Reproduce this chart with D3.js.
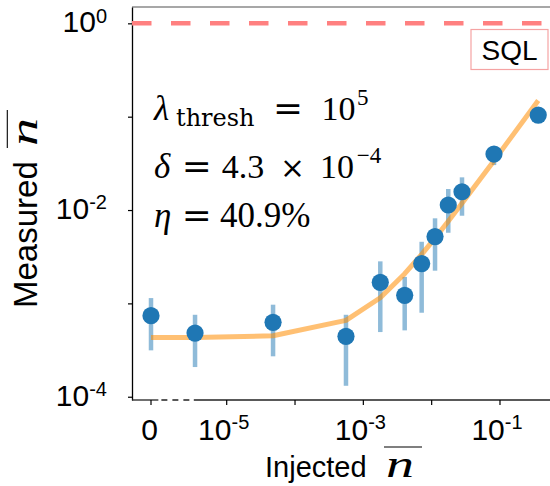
<!DOCTYPE html>
<html><head><meta charset="utf-8">
<script src="https://cdn.jsdelivr.net/npm/d3@7"></script>
<style>html,body{margin:0;padding:0;background:#fff}svg{display:block}</style>
</head><body>
<svg id="chart" width="550" height="486"></svg>
<script>
// ---- data ----
const injected   = [0, 3.44e-6, 4.77e-5, 5.57e-4, 1.77e-3, 4.03e-3, 7.14e-3, 0.0112, 0.0175, 0.0278, 0.0817, 0.363];
const measured   = [7.38e-4, 4.81e-4, 6.27e-4, 4.44e-4, 1.68e-3, 1.22e-3, 2.67e-3, 5.20e-3, 0.01132, 0.0157, 0.0398, 0.104];
const errLow     = [3.14e-4, 2.08e-4, 2.71e-4, 1.31e-4, 4.93e-4, 5.14e-4, 7.94e-4, 2.24e-3, 5.71e-3, 8.69e-3, 0.0303, 0.090];
const errHigh    = [1.14e-3, 7.55e-4, 9.68e-4, 7.55e-4, 2.82e-3, 1.92e-3, 4.57e-3, 8.15e-3, 0.0168, 0.0224, 0.048, 0.118];
const fitValues  = [4.30e-4, 4.31e-4, 4.50e-4, 6.58e-4, 1.15e-3, 2.08e-3, 3.35e-3, 5.01e-3, 7.59e-3, 0.0118, 0.0338, 0.149];
const sqlLevel   = [1];
const xTickValues = [0, 1e-5, 1e-4, 1e-3, 1e-2, 1e-1];
const xTickLabels = [["0",""], ["10","-5"], null, ["10","-3"], null, ["10","-1"]];
const yTickValues = [1e-4, 1e-3, 1e-2, 1e-1, 1];
const yTickLabels = [["10","-4"], null, ["10","-2"], null, ["10","0"]];
const zeroDrawnAt = 7.8e-7;            // where "0" sits on the broken log axis
const axisBreak   = [1e-6, 3.3e-6];    // dashed part of the x axis
const legendLabel = "SQL";

// ---- layout ----
const L = 132, R = 550, T = 7, B = 400;
const svg = d3.select("#chart");
svg.append("rect").attr("width",550).attr("height",486).attr("fill","#fff");

const x = d3.scaleLog().domain([Math.pow(10,-6.386), Math.pow(10,-0.268)]).range([L, R]);
const y = d3.scaleLog().domain([Math.pow(10,-4.035), Math.pow(10,0.175)]).range([B, T]);
const xp = v => v === 0 ? x(zeroDrawnAt) : x(v);

const sans = "'Liberation Sans', Arial, Helvetica, sans-serif";
const serif = "'Liberation Serif', 'DejaVu Serif', serif";
const dserif = "'DejaVu Serif', serif";

// top spine
svg.append("line").attr("x1",L).attr("x2",R).attr("y1",T).attr("y2",T)
  .attr("stroke","#8a8a8a").attr("stroke-width",1.5);

// left axis
const yAxis = d3.axisLeft(y).tickValues(yTickValues).tickSize(4).tickSizeOuter(0).tickFormat("");
const gy = svg.append("g").attr("transform",`translate(${L},0)`).call(yAxis);
gy.select(".domain").attr("stroke","#000").attr("stroke-width",1.3);
gy.selectAll(".tick line").attr("stroke","#000").attr("stroke-width",1.2);
gy.selectAll(".tick").each(function(d,i){
  const lab = yTickLabels[i]; if(!lab) return;
  const t = d3.select(this).append("text").attr("x",-25).attr("y",8.4)
    .attr("text-anchor","end").attr("fill","#000").attr("font-family",sans).attr("font-size",30);
  t.append("tspan").text(lab[0]);
  t.append("tspan").attr("font-size",20).attr("dy",-9.5).text(lab[1]);
});

// bottom axis (broken between 0 and 10^-5)
const gx = svg.append("g");
gx.append("line").attr("x1",L).attr("x2",x(axisBreak[0])).attr("y1",B).attr("y2",B)
  .attr("stroke","#222").attr("stroke-width",1.3);
gx.append("line").attr("x1",x(axisBreak[0])).attr("x2",x(axisBreak[1])).attr("y1",B).attr("y2",B)
  .attr("stroke","#222").attr("stroke-width",1.3).attr("stroke-dasharray","6,5").attr("stroke-dashoffset",-3);
gx.append("line").attr("x1",x(axisBreak[1])).attr("x2",R).attr("y1",B).attr("y2",B)
  .attr("stroke","#222").attr("stroke-width",1.3);
gx.selectAll("line.tk").data(xTickValues).join("line").attr("class","tk")
  .attr("x1",d=>xp(d)).attr("x2",d=>xp(d)).attr("y1",B).attr("y2",B+5)
  .attr("stroke","#000").attr("stroke-width",1.2);
xTickValues.forEach((d,i)=>{
  const lab = xTickLabels[i]; if(!lab) return;
  const t = gx.append("text").attr("x",xp(d) - (lab[1] ? 3 : 1.5)).attr("y",B+40)
    .attr("text-anchor","middle").attr("fill","#000").attr("font-family",sans).attr("font-size",30);
  t.append("tspan").text(lab[0]);
  if(lab[1]) t.append("tspan").attr("font-size",20).attr("dy",-11).text(lab[1]);
});

// SQL dashed level
svg.selectAll("line.sql").data(sqlLevel).join("line").attr("class","sql")
  .attr("x1",L).attr("x2",R).attr("y1",d=>y(d)).attr("y2",d=>y(d))
  .attr("stroke","#ff8080").attr("stroke-width",4.5).attr("stroke-dasharray","19.5,19.5");

// error bars
const idx = d3.range(injected.length);
svg.append("g").selectAll("line").data(idx).join("line")
  .attr("x1",i=>xp(injected[i])).attr("x2",i=>xp(injected[i]))
  .attr("y1",i=>y(errLow[i])).attr("y2",i=>y(errHigh[i]))
  .attr("stroke","#1f77b4").attr("stroke-opacity",0.5).attr("stroke-width",4.5);

// fit line
const line = d3.line().x(i=>xp(injected[i])).y(i=>y(fitValues[i]));
svg.append("path").datum(idx).attr("d",line).attr("fill","none")
  .attr("stroke","#ff8c00").attr("stroke-opacity",0.55).attr("stroke-width",5)
  .attr("stroke-linejoin","round");

// points
svg.append("g").selectAll("circle").data(idx).join("circle")
  .attr("cx",i=>xp(injected[i])).attr("cy",i=>y(measured[i])).attr("r",8.6)
  .attr("fill","#1f77b4");

// legend
svg.append("rect").attr("x",471).attr("y",29.5).attr("width",77).attr("height",40)
  .attr("fill","#fff").attr("stroke","#f5a3a3").attr("stroke-width",1.2);
svg.append("text").attr("x",509.5).attr("y",59.5).attr("text-anchor","middle")
  .attr("font-family",sans).attr("font-size",28).attr("fill","#000").text(legendLabel);

// annotation (math)
const ann = svg.append("g").attr("fill","#000");
function piece(txt, px, py, size, opts={}){
  const t = ann.append("text").attr("x",px).attr("y",py).attr("font-size",size)
    .attr("font-family",opts.family || serif).text(txt);
  if(opts.italic) t.attr("font-style","italic");
  if(opts.len) t.attr("textLength",opts.len).attr("lengthAdjust",opts.adj||"spacing");
  return t;
}
// line 1
piece("λ",154,120,35,{italic:true});
piece("thresh",176,126,24,{family:dserif});
piece("=",273,120,33,{family:dserif,len:30,adj:"spacingAndGlyphs"});
piece("10",321.5,120,34);
piece("5",357,105,23);
// line 2
piece("δ",154,178.3,35,{italic:true});
piece("=",181.7,178.3,33,{family:dserif,len:30,adj:"spacingAndGlyphs"});
piece("4.3",221.7,178.3,34);
piece("×",280,178.3,30,{family:dserif,len:25,adj:"spacingAndGlyphs"});
piece("10",320,178.3,34);
piece("−4",356.7,163.3,23);
// line 3
piece("η",154,227.3,35,{italic:true});
piece("=",181.7,227.3,33,{family:dserif,len:30,adj:"spacingAndGlyphs"});
piece("40.9%",220,227.3,35);

// axis labels
function nbar(g, px, py){
  g.append("text").attr("x",px).attr("y",py).attr("font-family",serif).attr("font-style","italic")
    .attr("font-size",38).attr("textLength",28).attr("lengthAdjust","spacingAndGlyphs")
    .text("n");
  g.append("line").attr("x1",px-2).attr("x2",px+36).attr("y1",py-29.7).attr("y2",py-29.7)
    .attr("stroke","#000").attr("stroke-width",1.1);
}
const xl = svg.append("g");
xl.append("text").attr("x",265).attr("y",476.7).attr("font-family",sans).attr("font-size",29).text("Injected");
nbar(xl, 386, 476.7);

const yl = svg.append("g").attr("transform","translate(37,308) rotate(-90)");
yl.append("text").attr("x",0).attr("y",0).attr("font-family",sans).attr("font-size",33).text("Measured");
nbar(yl, 162, 0);
</script>
</body></html>
